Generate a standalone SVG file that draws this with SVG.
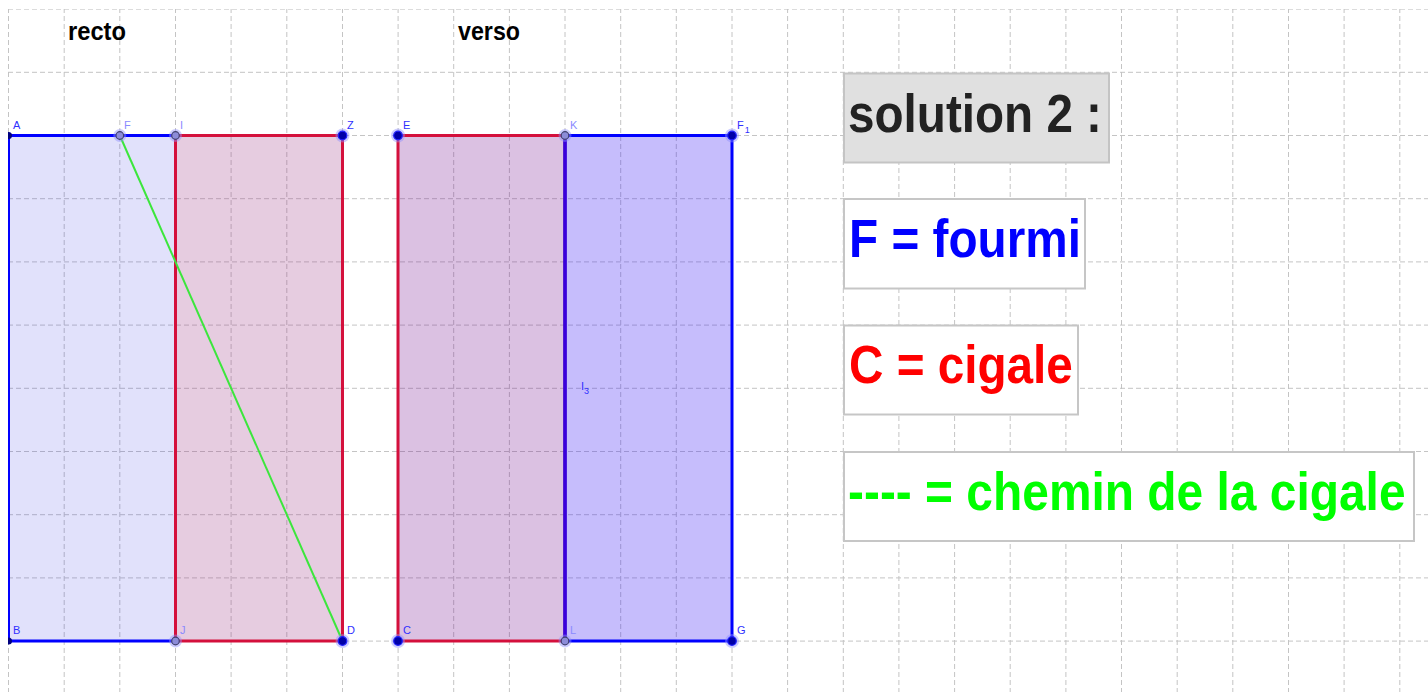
<svg xmlns="http://www.w3.org/2000/svg" width="1428" height="692" viewBox="0 0 1428 692">
<style>
.grid line{stroke:#c4c4c4;stroke-width:1;stroke-dasharray:5 3}
.lbl{font-family:"Liberation Sans",Arial,sans-serif;font-size:11px;fill:#3030ff}
.lbl2{font-family:"Liberation Sans",Arial,sans-serif;font-size:11px;fill:#8a8aff}
.title{font-family:"Liberation Sans",Arial,sans-serif;font-size:26px;font-weight:bold;fill:#000}
.big{font-family:"Liberation Sans",Arial,sans-serif;font-size:54px;font-weight:bold}
.box{fill:#fff;stroke:#c6c6c6;stroke-width:2}
.dark{fill:#0000a8;stroke:#2020ff;stroke-width:1.2}
.halo{fill:#9090ff;opacity:0.45}
.light{fill:#8c8cd8;stroke:#404070;stroke-width:1.2}
</style>
<defs>
<clipPath id="view"><rect x="8" y="9" width="1420" height="683"/></clipPath>
</defs>
<rect x="0" y="0" width="1428" height="692" fill="#fff"/>
<g clip-path="url(#view)">
<g class="grid">
<line x1="8.5" y1="0" x2="8.5" y2="692"/><line x1="64.2" y1="0" x2="64.2" y2="692"/><line x1="119.8" y1="0" x2="119.8" y2="692"/><line x1="175.5" y1="0" x2="175.5" y2="692"/><line x1="231.1" y1="0" x2="231.1" y2="692"/><line x1="286.8" y1="0" x2="286.8" y2="692"/><line x1="342.5" y1="0" x2="342.5" y2="692"/><line x1="398.1" y1="0" x2="398.1" y2="692"/><line x1="453.7" y1="0" x2="453.7" y2="692"/><line x1="509.4" y1="0" x2="509.4" y2="692"/><line x1="565" y1="0" x2="565" y2="692"/><line x1="620.7" y1="0" x2="620.7" y2="692"/><line x1="676.3" y1="0" x2="676.3" y2="692"/><line x1="732" y1="0" x2="732" y2="692"/><line x1="787.6" y1="0" x2="787.6" y2="692"/><line x1="843.3" y1="0" x2="843.3" y2="692"/><line x1="898.9" y1="0" x2="898.9" y2="692"/><line x1="954.6" y1="0" x2="954.6" y2="692"/><line x1="1010.2" y1="0" x2="1010.2" y2="692"/><line x1="1065.9" y1="0" x2="1065.9" y2="692"/><line x1="1121.5" y1="0" x2="1121.5" y2="692"/><line x1="1177.2" y1="0" x2="1177.2" y2="692"/><line x1="1232.8" y1="0" x2="1232.8" y2="692"/><line x1="1288.5" y1="0" x2="1288.5" y2="692"/><line x1="1344.1" y1="0" x2="1344.1" y2="692"/><line x1="1399.8" y1="0" x2="1399.8" y2="692"/>
<line x1="0" y1="9.1" x2="1428" y2="9.1"/><line x1="0" y1="72.3" x2="1428" y2="72.3"/><line x1="0" y1="135.5" x2="1428" y2="135.5"/><line x1="0" y1="198.7" x2="1428" y2="198.7"/><line x1="0" y1="261.9" x2="1428" y2="261.9"/><line x1="0" y1="325.1" x2="1428" y2="325.1"/><line x1="0" y1="388.3" x2="1428" y2="388.3"/><line x1="0" y1="451.5" x2="1428" y2="451.5"/><line x1="0" y1="514.7" x2="1428" y2="514.7"/><line x1="0" y1="577.9" x2="1428" y2="577.9"/><line x1="0" y1="641.1" x2="1428" y2="641.1"/>
</g>

<text class="title" x="68" y="40" textLength="58" lengthAdjust="spacingAndGlyphs">recto</text>
<text class="title" x="458" y="40" textLength="62" lengthAdjust="spacingAndGlyphs">verso</text>

<g id="rect-ABJI">
<rect x="8.5" y="135.5" width="167" height="505.5" fill="#2a2ae4" fill-opacity="0.14" stroke="#0000ff" stroke-width="3"/>
</g>
<g id="rect-IJDZ">
<rect x="175.5" y="135.5" width="167" height="505.5" fill="#9b3383" fill-opacity="0.25" stroke="#d4103c" stroke-width="3"/>
</g>
<g id="rect-ECLK">
<rect x="398" y="135.5" width="167" height="505.5" fill="#6f078b" fill-opacity="0.25" stroke="#d4103c" stroke-width="3"/>
</g>
<g id="rect-KLGF1">
<rect x="565" y="135.5" width="167" height="505.5" fill="#4126f5" fill-opacity="0.3" stroke="#0000ff" stroke-width="3"/>
<line x1="565" y1="135.5" x2="565" y2="641" stroke="#3a00dc" stroke-width="3"/>
</g>

<g id="connectors">
<line x1="119.8" y1="135.5" x2="342.5" y2="641" stroke="#3ce63c" stroke-width="2"/>
</g>

<g id="points">
<g id="pt-A"><circle cx="8.5" cy="135.5" r="3.5" fill="#000080"/><text class="lbl" x="13" y="129">A</text></g>
<g id="pt-F"><circle cx="119.8" cy="135.5" r="6.5" class="halo"/><circle cx="119.8" cy="135.5" r="3.8" class="light"/><text class="lbl2" x="124" y="129">F</text></g>
<g id="pt-I"><circle cx="175.5" cy="135.5" r="6.5" class="halo"/><circle cx="175.5" cy="135.5" r="3.8" class="light"/><text class="lbl2" x="180" y="129">I</text></g>
<g id="pt-Z"><circle cx="342.5" cy="135.5" r="7" class="halo"/><circle cx="342.5" cy="135.5" r="4.3" class="dark"/><text class="lbl" x="347" y="129">Z</text></g>
<g id="pt-E"><circle cx="398" cy="135.5" r="7" class="halo"/><circle cx="398" cy="135.5" r="4.3" class="dark"/><text class="lbl" x="403" y="129">E</text></g>
<g id="pt-K"><circle cx="565" cy="135.5" r="6.5" class="halo"/><circle cx="565" cy="135.5" r="3.8" class="light"/><text class="lbl2" x="570" y="129">K</text></g>
<g id="pt-F1"><circle cx="732" cy="135.5" r="7" class="halo"/><circle cx="732" cy="135.5" r="4.3" class="dark"/><text class="lbl" x="737" y="129">F<tspan font-size="9" dx="1" dy="4">1</tspan></text></g>
<g id="pt-B"><circle cx="8.5" cy="641" r="3.5" fill="#000080"/><text class="lbl" x="13" y="634">B</text></g>
<g id="pt-J"><circle cx="175.5" cy="641" r="6.5" class="halo"/><circle cx="175.5" cy="641" r="3.8" class="light"/><text class="lbl2" x="180" y="634">J</text></g>
<g id="pt-D"><circle cx="342.5" cy="641" r="7" class="halo"/><circle cx="342.5" cy="641" r="4.3" class="dark"/><text class="lbl" x="347" y="634">D</text></g>
<g id="pt-C"><circle cx="398" cy="641" r="7" class="halo"/><circle cx="398" cy="641" r="4.3" class="dark"/><text class="lbl" x="403" y="634">C</text></g>
<g id="pt-L"><circle cx="565" cy="641" r="6.5" class="halo"/><circle cx="565" cy="641" r="3.8" class="light"/><text class="lbl2" x="570" y="634">L</text></g>
<g id="pt-G"><circle cx="732" cy="641" r="7" class="halo"/><circle cx="732" cy="641" r="4.3" class="dark"/><text class="lbl" x="737" y="634">G</text></g>
<g id="lbl-I3"><text class="lbl" x="581" y="390">I<tspan font-size="9" dx="0" dy="4">3</tspan></text></g>
</g>

<g id="box-solution">
<rect x="844" y="73.5" width="265" height="89" fill="#e0e0e0" stroke="#c4c4c4" stroke-width="2"/>
<text class="big" transform="matrix(0.882 0 0 1 848 132)" x="0" y="0" fill="#222">solution 2 :</text>
</g>
<g id="box-fourmi">
<rect class="box" x="844" y="199" width="241" height="89.5"/>
<text class="big" transform="matrix(0.884 0 0 1 849 257)" x="0" y="0" fill="#0000ff">F = fourmi</text>
</g>
<g id="box-cigale">
<rect class="box" x="844" y="325.5" width="234" height="89"/>
<text class="big" transform="matrix(0.883 0 0 1 849 383)" x="0" y="0" fill="#ff0000">C = cigale</text>
</g>
<g id="box-chemin">
<rect class="box" x="844" y="452" width="570" height="89"/>
<text class="big" transform="matrix(0.887 0 0 1 848 510)" x="0" y="0" fill="#00ff00">---- = chemin de la cigale</text>
</g>
</g>
</svg>
